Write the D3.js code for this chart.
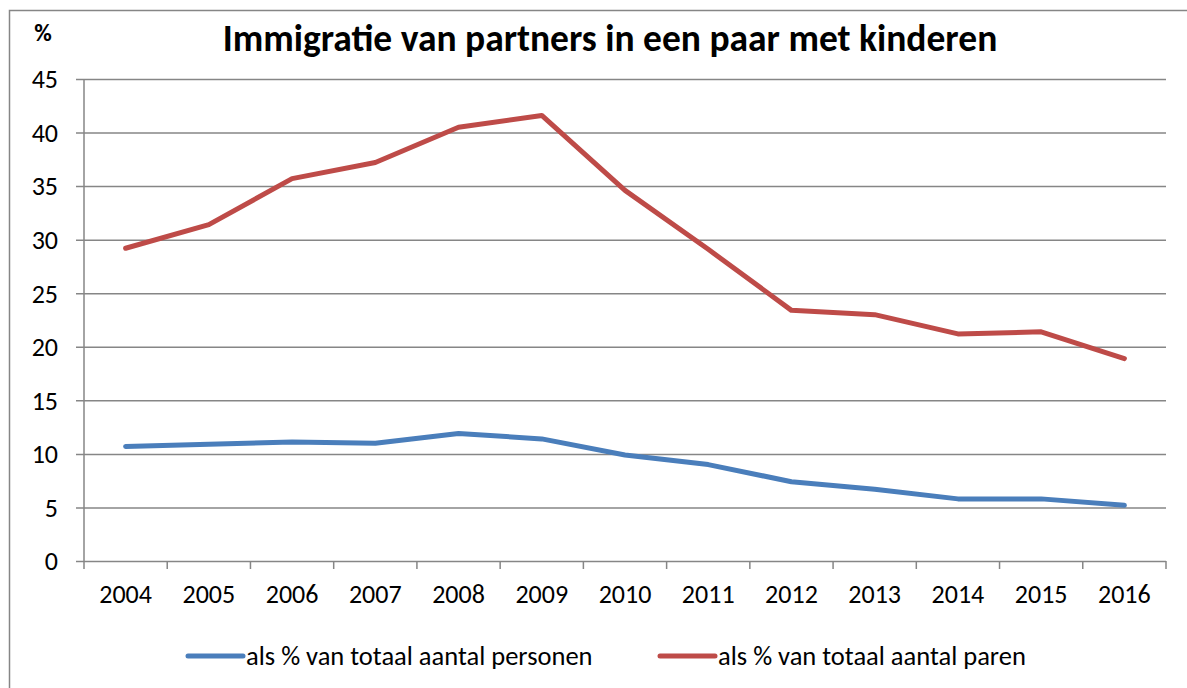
<!DOCTYPE html>
<html>
<head>
<meta charset="utf-8">
<script src="https://cdn.jsdelivr.net/npm/d3@7"></script>
<style>
  body { margin: 0; background: #fff; }
  svg text { font-family: Carlito, 'Open Sans', sans-serif; fill: #000; }
</style>
</head>
<body>
<div class="chart"></div>
<script>
// Data
const years = ['2004', '2005', '2006', '2007', '2008', '2009', '2010', '2011', '2012', '2013', '2014', '2015', '2016'];
const personen = [10.7, 10.9, 11.1, 11.0, 11.9, 11.4, 9.9, 9.0, 7.4, 6.7, 5.8, 5.8, 5.2];
const paren = [29.2, 31.4, 35.7, 37.2, 40.5, 41.6, 34.6, 29.1, 23.4, 23.0, 21.2, 21.4, 18.9];
const yTicks = [0, 5, 10, 15, 20, 25, 30, 35, 40, 45];
const seriesNames = ['als % van totaal aantal personen', 'als % van totaal aantal paren'];
const seriesColors = ['#4a7ebb', '#be4b48'];

const W = 1187, H = 688;
const margin = {top: 79, right: 21, bottom: 127, left: 84},
    width = W - margin.left - margin.right,
    height = H - margin.top - margin.bottom;

const svg = d3.select('.chart')
    .append('svg')
        .attr('width', W)
        .attr('height', H);

// Chart border
svg.append('rect')
    .attr('x', 9.5).attr('y', 10.5)
    .attr('width', W + 20).attr('height', H + 20)
    .attr('fill', 'none')
    .attr('stroke', '#868686')
    .attr('stroke-width', 1.5);

const g = svg.append('g')
    .attr('transform', `translate(${margin.left},${margin.top})`);

// Scales
const xScale = d3.scaleBand()
    .domain(years)
    .range([0, width]);
const yScale = d3.scaleLinear()
    .domain([0, 45])
    .range([height, 0]);

// Gridlines + left axis
const yAxis = g.append('g')
    .call(d3.axisLeft(yScale).tickValues(yTicks).tickSize(-width - 8).tickPadding(18))
    .attr('transform', 'translate(-8,0)');
yAxis.select('.domain').remove();
yAxis.selectAll('line')
    .attr('stroke', '#868686')
    .attr('stroke-width', 1.5);
yAxis.selectAll('text')
    .style('font-size', '26px')
    .attr('dy', '0.34em');

g.append('line')
    .attr('x1', 0).attr('x2', 0)
    .attr('y1', 0).attr('y2', height)
    .attr('stroke', '#868686')
    .attr('stroke-width', 1.5);

// Bottom axis: ticks between categories
const boundaries = years.map(y => xScale(y)).concat([width]);
g.selectAll('.xtick')
    .data(boundaries)
    .enter()
        .append('line')
        .attr('class', 'xtick')
        .attr('x1', d => d).attr('x2', d => d)
        .attr('y1', height).attr('y2', height + 8)
        .attr('stroke', '#868686')
        .attr('stroke-width', 1.5);
g.selectAll('.xlabel')
    .data(years)
    .enter()
        .append('text')
        .attr('class', 'xlabel')
        .attr('x', d => xScale(d) + xScale.bandwidth() / 2)
        .attr('y', height + 42)
        .attr('text-anchor', 'middle')
        .style('font-size', '26px')
        .text(d => d);

// Lines
const line = d3.line()
    .x((d, i) => xScale(years[i]) + xScale.bandwidth() / 2)
    .y(d => yScale(d));

[personen, paren].forEach((vals, i) => {
    g.append('path')
        .datum(vals)
        .attr('d', line)
        .attr('fill', 'none')
        .attr('stroke', seriesColors[i])
        .attr('stroke-width', 5)
        .attr('stroke-linejoin', 'round')
        .attr('stroke-linecap', 'round');
});

// Title
svg.append('text')
    .attr('x', 610)
    .attr('y', 51)
    .attr('text-anchor', 'middle')
    .style('font-size', '37.5px')
    .style('font-weight', 'bold')
    .text('Immigratie van partners in een paar met kinderen');
svg.append('text')
    .attr('x', 43)
    .attr('y', 41)
    .attr('text-anchor', 'middle')
    .style('font-size', '24px')
    .style('font-weight', 'bold')
    .text('%');

// Legend
const legendX = [188, 660];
seriesNames.forEach((name, i) => {
    svg.append('line')
        .attr('x1', legendX[i]).attr('x2', legendX[i] + 55)
        .attr('y1', 656).attr('y2', 656)
        .attr('stroke', seriesColors[i])
        .attr('stroke-width', 5)
        .attr('stroke-linecap', 'round');
    svg.append('text')
        .attr('x', legendX[i] + 58)
        .attr('y', 656)
        .attr('dy', '0.35em')
        .style('font-size', '26.5px')
        .text(name);
});
</script>
</body>
</html>
